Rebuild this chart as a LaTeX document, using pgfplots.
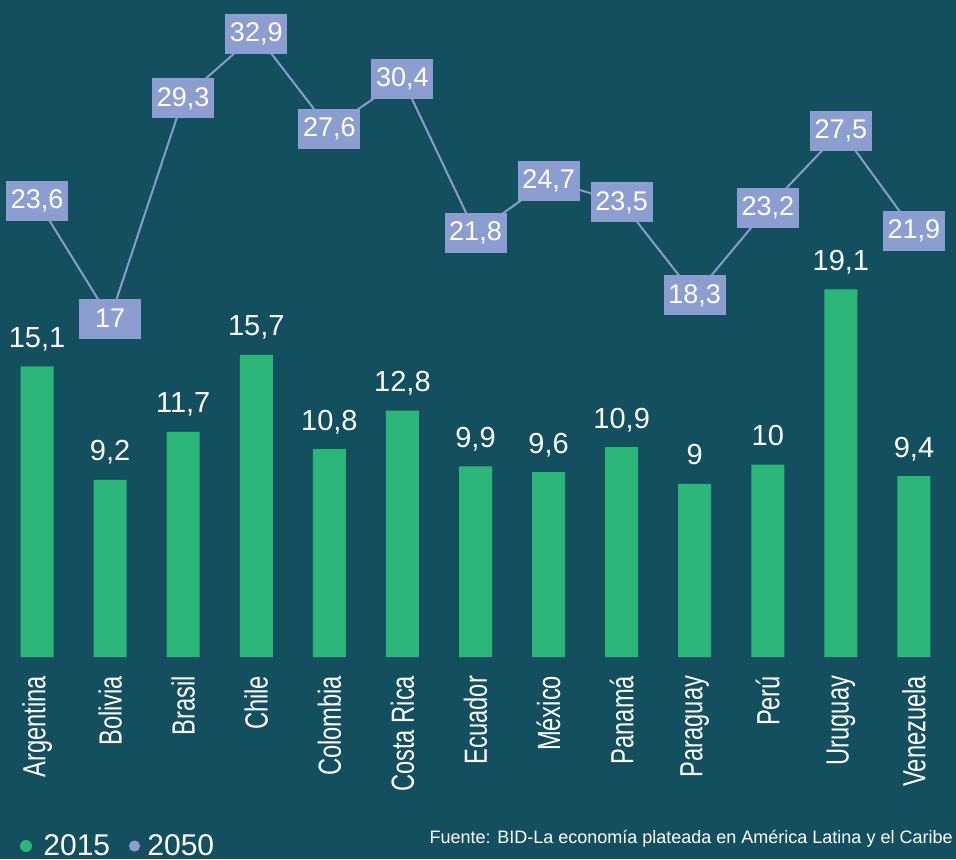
\documentclass[border=0pt]{standalone}
\usepackage{pgfplots}
\pgfplotsset{compat=1.18}
\usepackage{fontspec}
\setmainfont{Liberation Sans}
\newfontfamily\condfont[FakeStretch=0.74]{Liberation Sans}
\definecolor{bg}{HTML}{134F5F}
\definecolor{barg}{HTML}{2CB67A}
\definecolor{boxp}{HTML}{8C9ED0}
\definecolor{linep}{HTML}{8A9CCD}
\begin{document}
\begin{tikzpicture}
\useasboundingbox (0,0) rectangle (478pt,429.5pt);
\fill[bg] (0,0) rectangle (478pt,429.5pt);
\begin{axis}[
 at={(0.25pt,101pt)}, anchor=south west, scale only axis,
 width=475pt, height=288.75pt,
 xmin=-0.5, xmax=12.5, ymin=0, ymax=30,
 clip=false,
 axis line style={draw=none}, tick style={draw=none},
 ytick=\empty,
 xtick={0,...,12},
 xticklabels={Argentina,Bolivia,Brasil,Chile,Colombia,Costa Rica,Ecuador,México,Panamá,Paraguay,Perú,Uruguay,Venezuela},
 xticklabel style={rotate=90, anchor=east, inner xsep=5pt, inner ysep=0pt, text=white, font=\condfont\fontsize{16}{16}\selectfont},
 ybar, bar width=16.5pt,
 nodes near coords={\pgfmathprintnumber[use comma,assume math mode=true]{\pgfplotspointmeta}},
 every node near coord/.append style={anchor=base, yshift=9.5pt, inner sep=0pt, text=white, font=\fontsize{14.5}{14.5}\selectfont},
]
\addplot[fill=barg, draw=none] coordinates {
 (0,15.1) (1,9.2) (2,11.7) (3,15.7) (4,10.8) (5,12.8) (6,9.9)
 (7,9.6) (8,10.9) (9,9) (10,10) (11,19.1) (12,9.4)};
\end{axis}
\begin{axis}[
 at={(0.25pt,101pt)}, anchor=south west, scale only axis,
 width=475pt, height=288.75pt,
 xmin=-0.5, xmax=12.5, ymin=-1.9, ymax=30.36,
 clip=false, hide axis,
 nodes near coords={\pgfmathprintnumber[use comma,assume math mode=true]{\pgfplotspointmeta}},
 every node near coord/.append style={anchor=center, fill=boxp, text=white, minimum width=31pt, minimum height=20pt, inner sep=0pt, font=\fontsize{13.5}{13.5}\selectfont},
]
\addplot[color=linep, line width=1pt, mark=none] coordinates {
 (0,23.6) (1,17) (2,29.3) (3,32.9) (4,27.6) (5,30.4) (6,21.8)
 (7,24.7) (8,23.5) (9,18.3) (10,23.2) (11,27.5) (12,21.9)};
\end{axis}
\fill[barg] (13pt,6.5pt) circle (3pt);
\node[anchor=base west, inner sep=0pt, text=white, font=\fontsize{15}{15}\selectfont] at (21.5pt,2pt) {2015};
\fill[boxp] (67.25pt,6.5pt) circle (2.8pt);
\node[anchor=base west, inner sep=0pt, text=white, font=\fontsize{15}{15}\selectfont] at (73.5pt,2pt) {2050};
\node[anchor=base east, inner sep=0pt, text=white, font=\fontsize{9}{9}\selectfont] at (476.5pt,8pt) {Fuente: BID-La economía plateada en América Latina y el Caribe};
\end{tikzpicture}
\end{document}
